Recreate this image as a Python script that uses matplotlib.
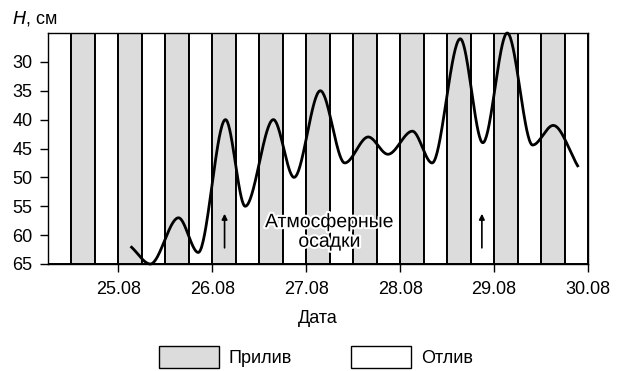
import numpy as np
import matplotlib
matplotlib.use("Agg")
import matplotlib.pyplot as plt
from matplotlib.patches import Patch
import matplotlib.patheffects as pe

plt.rcParams['font.family'] = ['Liberation Sans', 'DejaVu Sans']

# water level H (cm) at the turning points of the curve, date in days of August
date_pts = [25.14, 25.34, 25.64, 25.85, 26.14, 26.35, 26.65, 26.87, 27.15, 27.41,
            27.66, 27.87, 28.13, 28.34, 28.64, 28.88, 29.14, 29.41, 29.63, 29.89]
level_pts = [62.1, 65.0, 57.0, 63.0, 40.0, 55.0, 40.0, 50.0, 35.0, 47.5,
             43.0, 46.0, 42.0, 47.5, 26.0, 44.0, 25.0, 44.4, 41.0, 48.0]

# tide phases, each a quarter of a day long
phase_start = 24.25
phase_len = 0.25
phases = ['Отлив', 'Прилив'] * 11 + ['Отлив']

day_ticks = [25, 26, 27, 28, 29, 30]
day_labels = ['25.08', '26.08', '27.08', '28.08', '29.08', '30.08']
level_ticks = [30, 35, 40, 45, 50, 55, 60, 65]

rain_days = [26.13, 28.87]

gray = '#dcdcdc'


def smooth(xs, ys, n=40):
    # cubic hermite, flat at the turning points, secant slope at the two ends
    xs = np.asarray(xs, float)
    ys = np.asarray(ys, float)
    m = np.zeros_like(ys)
    m[0] = (ys[1] - ys[0]) / (xs[1] - xs[0])
    m[-1] = (ys[-1] - ys[-2]) / (xs[-1] - xs[-2])
    out_x, out_y = [], []
    for i in range(len(xs) - 1):
        h = xs[i + 1] - xs[i]
        t = np.linspace(0, 1, n)
        h00 = 2 * t**3 - 3 * t**2 + 1
        h10 = t**3 - 2 * t**2 + t
        h01 = -2 * t**3 + 3 * t**2
        h11 = t**3 - t**2
        out_x.append(xs[i] + t * h)
        out_y.append(h00 * ys[i] + h10 * h * m[i] + h01 * ys[i + 1] + h11 * h * m[i + 1])
    return np.concatenate(out_x), np.concatenate(out_y)


fig = plt.figure(figsize=(6.17, 3.71), dpi=100)
ax = fig.add_axes([48 / 617, 1 - 264 / 371, 540 / 617, 231 / 371])

for i, ph in enumerate(phases):
    x0 = phase_start + i * phase_len
    ax.axvspan(x0, x0 + phase_len, facecolor=gray if ph == 'Прилив' else 'white',
               edgecolor='black', linewidth=1.4, zorder=1)

cx, cy = smooth(date_pts, level_pts)
ax.plot(cx, cy, color='black', linewidth=2.0, zorder=3, clip_on=False)

for d in rain_days:
    ax.annotate('', xy=(d, 56.3), xytext=(d, 62.2),
                arrowprops=dict(arrowstyle='-|>', color='black', lw=1.2,
                                mutation_scale=8, shrinkA=0, shrinkB=0), zorder=4)

ax.text(27.25, 59.5, 'Атмосферные\nосадки', ha='center', va='center', fontsize=14,
        linespacing=1.2, zorder=5,
        path_effects=[pe.withStroke(linewidth=3, foreground='white')])

ax.set_xlim(24.25, 30.0)
ax.set_ylim(65, 25)
ax.set_xticks(day_ticks)
ax.set_xticklabels(day_labels)
ax.set_yticks(level_ticks)
ax.tick_params(axis='both', labelsize=13, direction='out', length=6, width=1)
ax.tick_params(axis='x', pad=6)
ax.tick_params(axis='y', pad=5)
for s in ax.spines.values():
    s.set_linewidth(1.0)
    s.set_zorder(6)
ax.set_xlabel('Дата', fontsize=13, labelpad=9)

fig.text(12 / 617, 1 - 18 / 371, '$\\it{H}$, см', fontsize=13, va='center', ha='left')

handles = [Patch(facecolor=gray, edgecolor='black', linewidth=1.0, label='Прилив'),
           Patch(facecolor='white', edgecolor='black', linewidth=1.0, label='Отлив')]
fig.legend(handles=handles, loc='center', bbox_to_anchor=(316 / 617, 1 - 357 / 371),
           ncol=2, frameon=False, fontsize=13, handlelength=3.3, handleheight=1.5,
           handletextpad=0.55, columnspacing=3.3, borderaxespad=0, borderpad=0)

fig.savefig('out.png', dpi=100)
